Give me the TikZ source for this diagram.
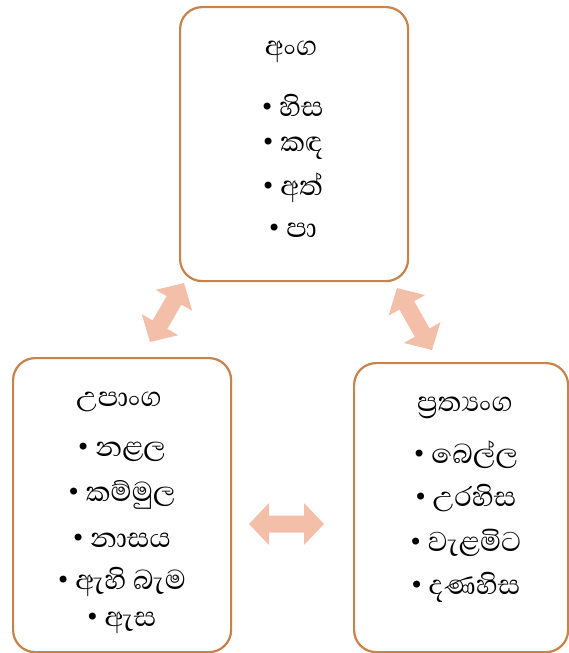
\documentclass[tikz,border=0pt]{standalone}
\usepackage{fontspec}
\newfontfamily\sinhfont[Script=Sinhala]{Abhaya Libre}
\newfontfamily\bulfont{DejaVu Sans}
\usetikzlibrary{calc}
\definecolor{boxline}{HTML}{C8824A}
\definecolor{arrfill}{HTML}{F3BFA9}
\tikzset{
  box/.style={draw=boxline, line width=2.2pt, rounded corners=22pt, fill=white},
  txt/.style={font=\sinhfont\fontsize{35}{40}\selectfont, text=black, inner sep=0pt},
  blockarrow/.style={fill=arrfill, draw=none},
}
\newcommand\bt{\raisebox{1pt}{\bulfont\fontsize{24}{24}\selectfont •}\hspace{5pt}}
\newcommand\dblblock[2]{%
  \path ($(#1)!20pt!(#2)$) coordinate (h1) ($(#2)!20pt!(#1)$) coordinate (h2);
  \fill[blockarrow] (#1) -- ($(h1)!21pt!90:(#2)$) -- ($(h1)!8.5pt!90:(#2)$)
    -- ($(h2)!8.5pt!-90:(#1)$) -- ($(h2)!21pt!-90:(#1)$) -- (#2)
    -- ($(h2)!21pt!90:(#1)$) -- ($(h2)!8.5pt!90:(#1)$)
    -- ($(h1)!8.5pt!-90:(#2)$) -- ($(h1)!21pt!-90:(#2)$) -- cycle;
}
\begin{document}
\begin{tikzpicture}[x=1pt,y=-1pt]
\useasboundingbox (0,0) rectangle (569,653);
% boxes
\node[box, anchor=north west, minimum width=228pt, minimum height=274pt] (top) at (179,6) {};
\node[box, anchor=north west, minimum width=218pt, minimum height=294pt] (left) at (12,357) {};
\node[box, anchor=north west, minimum width=214pt, minimum height=289pt] (right) at (353,362) {};
% top texts
\node[txt] (t0) at (291,52) {අංග};
\node[txt] (t1) at (292,105) {\bt හිස};
\node[txt] (t2) at (292,148) {\bt කඳ};
\node[txt] (t3) at (292,188) {\bt අත්};
\node[txt] (t4) at (292,230) {\bt පා};
% left texts
\node[txt] (l0) at (119,402) {උපාංග};
\node[txt] (l1) at (121,452) {\bt නළල};
\node[txt] (l2) at (121,495) {\bt කම්මුල};
\node[txt] (l3) at (121,540) {\bt නාසය};
\node[txt] (l4) at (121,582) {\bt ඇහි බැම};
\node[txt] (l5) at (121,623) {\bt ඇස};
% right texts
\node[txt] (r0) at (465,408) {ප්^^^^200dරත්^^^^200dයංග};
\node[txt] (r1) at (465,455) {\bt බෙල්ල};
\node[txt] (r2) at (465,498) {\bt උරහිස};
\node[txt] (r3) at (465,543) {\bt වැළමිට};
\node[txt] (r4) at (465,587) {\bt දණහිස};
% block arrows
\coordinate (a1s) at (150,342);
\coordinate (a1e) at (184,283);
\coordinate (a2s) at (397,288);
\coordinate (a2e) at (432,350);
\coordinate (a3s) at (249,524);
\coordinate (a3e) at (324,524);
\dblblock{a1s}{a1e}
\dblblock{a2s}{a2e}
\dblblock{a3s}{a3e}
\end{tikzpicture}
\end{document}
